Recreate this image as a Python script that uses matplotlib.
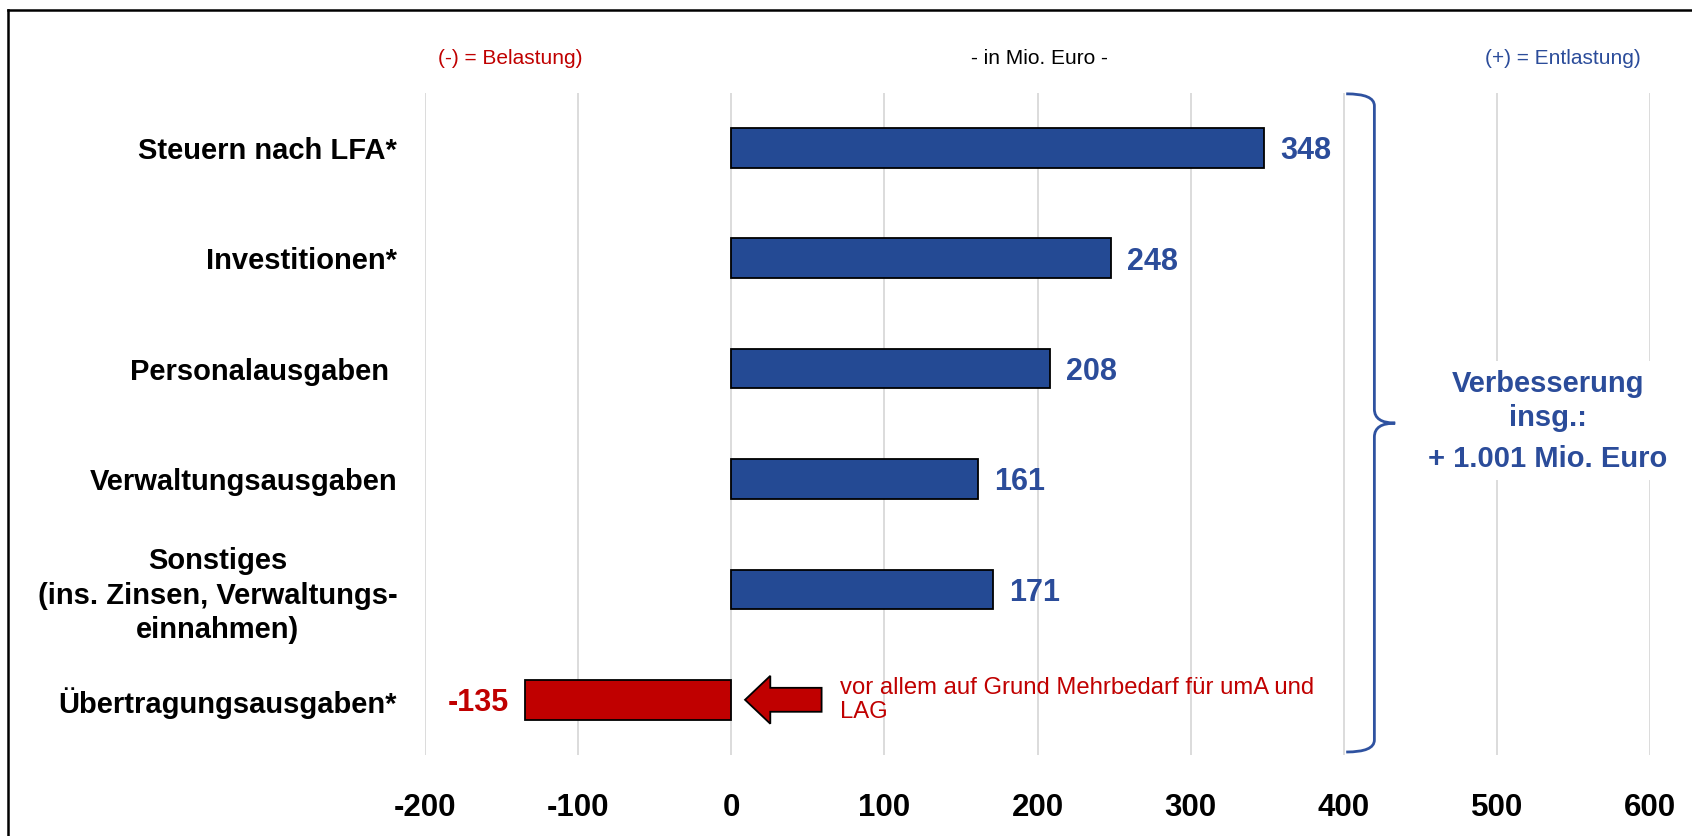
import numpy as np
import matplotlib
matplotlib.use("Agg")
import matplotlib.pyplot as plt
from matplotlib.path import Path
from matplotlib.patches import PathPatch, FancyArrow, Rectangle
from matplotlib.lines import Line2D

plt.rcParams['font.family'] = ['Liberation Sans', 'DejaVu Sans']

# --- data -------------------------------------------------------------
categories = [
    "Steuern nach LFA*",
    "Investitionen*",
    "Personalausgaben ",
    "Verwaltungsausgaben",
    "Sonstiges\n(ins. Zinsen, Verwaltungs-\neinnahmen)",
    "Übertragungsausgaben*",
]
values = [348, 248, 208, 161, 171, -135]
x_ticks = [-200, -100, 0, 100, 200, 300, 400, 500, 600]
x_tick_labels = ["-200", "-100", "0", "100", "200", "300", "400", "500", "600"]

header_left = "(-) = Belastung)"
header_mid = "- in Mio. Euro -"
header_right = "(+) = Entlastung)"
note_text = "vor allem auf Grund Mehrbedarf für umA und\nLAG"
total_head = "Verbesserung\ninsg.:"
total_value = "+ 1.001 Mio. Euro"

BLUE = "#244A94"
BLUE_TXT = "#2B4C9A"
RED = "#C00000"
GRID = "#D9D9D9"

# --- figure -----------------------------------------------------------
W, H = 1692, 836
fig = plt.figure(figsize=(W / 100, H / 100), dpi=100)
ax = fig.add_axes([425 / W, 1 - 755 / H, 1225 / W, 662.5 / H])

y = np.arange(len(categories))
colors = [BLUE if v >= 0 else RED for v in values]
ax.barh(y, values, height=0.36, color=colors, edgecolor="black",
        linewidth=1.3, zorder=3)

ax.set_xlim(-200, 600)
ax.set_ylim(len(categories) - 0.5, -0.5)
ax.set_xticks(x_ticks)
ax.set_xticklabels(x_tick_labels, fontsize=22.5, fontweight="bold")
ax.set_yticks(y)
ax.set_yticklabels(categories, fontsize=21, fontweight="bold",
                   multialignment="center", linespacing=1.3)
ax.tick_params(axis="x", length=0, pad=27)
ax.tick_params(axis="y", length=0, pad=20)
for s in ax.spines.values():
    s.set_visible(False)
ax.xaxis.grid(True, color=GRID, linewidth=1.3, zorder=0)
ax.set_axisbelow(True)

# value labels
for yi, v in zip(y, values):
    if v >= 0:
        ax.annotate(f"{v}", (v, yi), xytext=(11.5, -2.5), textcoords="offset points",
                    ha="left", va="center", fontsize=22, fontweight="bold",
                    color=BLUE_TXT, zorder=4)
    else:
        ax.annotate(f"{v}", (v, yi), xytext=(-11, -2.5), textcoords="offset points",
                    ha="right", va="center", fontsize=22, fontweight="bold",
                    color=RED, zorder=4)

# arrow pointing at the negative bar, with its explanation
yn = y[-1]
ax.add_patch(FancyArrow(59, yn, -50, 0, width=0.217, head_width=0.434,
                        head_length=16.5, length_includes_head=True,
                        facecolor=RED, edgecolor="black", linewidth=1.3,
                        zorder=4))
ax.text(71, yn, note_text, ha="left", va="center", fontsize=17.2,
        color=RED, linespacing=1.1, zorder=4)

# curly brace spanning all rows
xl, xv, xt = 0.752, 0.775, 0.792
yt, yb, ym = 0.998, 0.0045, 0.501
r, r2 = 0.018, 0.021
verts = [
    (xl, yt), (xv, yt), (xv, yt - r),
    (xv, ym + r2),
    (xv, ym), (xt, ym),
    (xv, ym), (xv, ym - r2),
    (xv, yb + r),
    (xv, yb), (xl, yb),
]
codes = [Path.MOVETO, Path.CURVE3, Path.CURVE3,
         Path.LINETO,
         Path.CURVE3, Path.CURVE3,
         Path.CURVE3, Path.CURVE3,
         Path.LINETO,
         Path.CURVE3, Path.CURVE3]
ax.add_patch(PathPatch(Path(verts, codes), transform=ax.transAxes,
                       facecolor="none", edgecolor="#2F52A0", linewidth=2.0,
                       clip_on=False, zorder=5))

# total improvement label on a white box that interrupts the grid
fig.add_artist(Rectangle((1420 / W, 1 - 480 / H), 262 / W, 119 / H,
                         transform=fig.transFigure, facecolor="white",
                         edgecolor="none", zorder=5))
fig.text(1548 / W, 1 - 401 / H, total_head, ha="center", va="center",
         fontsize=21, fontweight="bold", color=BLUE_TXT, linespacing=1.27,
         zorder=6)
fig.text(1548 / W, 1 - 459 / H, total_value, ha="center", va="center",
         fontsize=21, fontweight="bold", color=BLUE_TXT, zorder=6)

# header line
fig.text(510 / W, 1 - 59 / H, header_left, ha="center", va="center",
         fontsize=15, color=RED)
fig.text(1039 / W, 1 - 59 / H, header_mid, ha="center", va="center",
         fontsize=15, color="black")
fig.text(1563 / W, 1 - 59 / H, header_right, ha="center", va="center",
         fontsize=15, color=BLUE_TXT)

# outer frame (top and left edges)
fig.add_artist(Line2D([8 / W, 8 / W], [0, 1 - 10 / H], color="black",
                      linewidth=1.8, transform=fig.transFigure))
fig.add_artist(Line2D([8 / W, 1], [1 - 10 / H, 1 - 10 / H], color="black",
                      linewidth=1.8, transform=fig.transFigure))

fig.savefig("out.png", dpi=100, facecolor="white")
